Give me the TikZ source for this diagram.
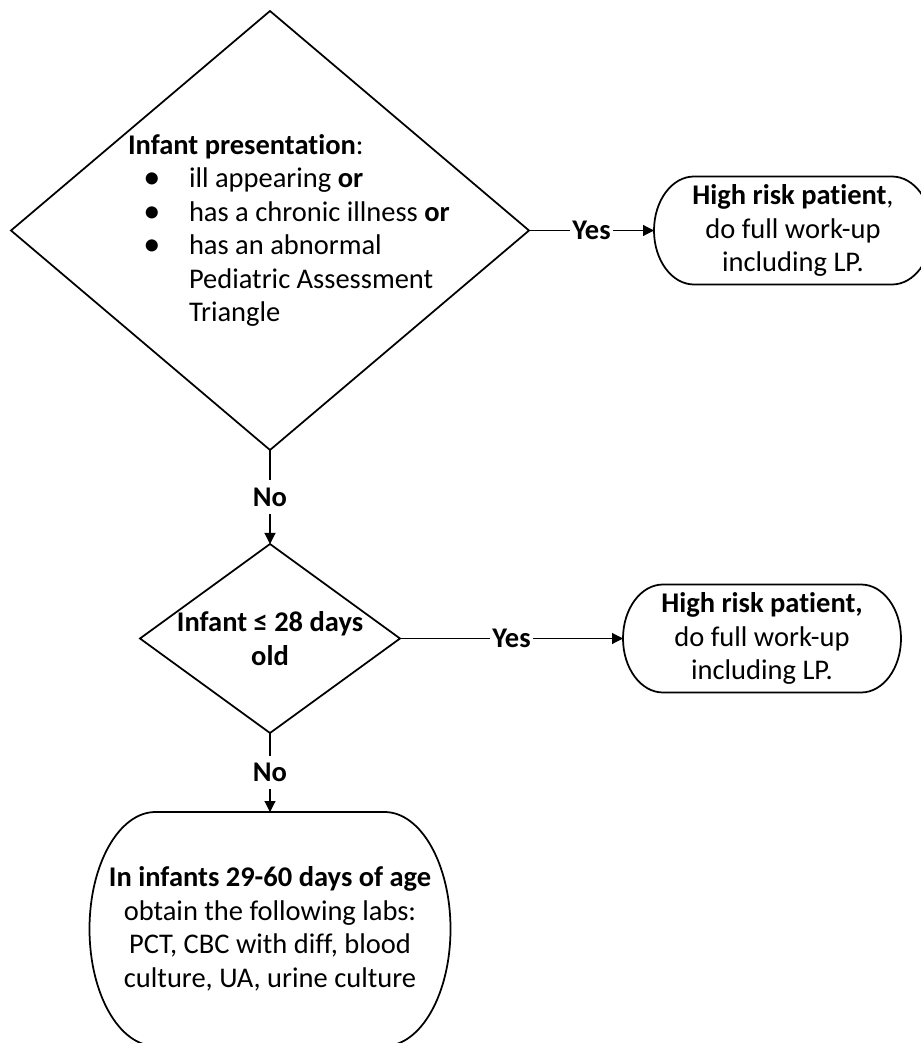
\documentclass[tikz,border=0pt]{standalone}
\usepackage{fontspec}
\setmainfont{Carlito}[Ligatures=CommonOff]
\usetikzlibrary{arrows.meta, positioning, shapes.geometric}

% outline of a terminator: flat top and bottom, half ellipses at the ends
\newcommand{\termshape}[3]{%
	\draw[line width=0.7pt] ([xshift=#2]#1.north west) -- ([xshift=-#2]#1.north east)
		arc[start angle=90, end angle=-90, x radius=#2, y radius=#3]
		-- ([xshift=#2]#1.south west)
		arc[start angle=270, end angle=90, x radius=#2, y radius=#3] -- cycle;}
% list bullet
\newcommand{\bul}{\makebox[24.4pt][l]{\makebox[19.2pt]{\raisebox{-0.3pt}[0pt][0pt]{\scalebox{1.2}{\textbullet}}}}}

\begin{document}
\begin{tikzpicture}[
		every node/.style={font=\fontsize{11.4pt}{13.4pt}\selectfont, outer sep=0pt},
		decision/.style={draw, diamond, inner sep=0pt, line width=0.7pt},
		terminator/.style={rectangle, align=center, inner sep=0pt, minimum width=111.2pt, minimum height=43.2pt},
		lbl/.style={fill=white, font=\fontsize{11.4pt}{13.4pt}\selectfont\bfseries, inner xsep=0.8pt, inner ysep=3pt},
		flow/.style={-{Triangle[length=4.4pt, width=4.4pt]}, line width=0.45pt},
		]
		\useasboundingbox (0,0) rectangle (368.4pt,-417.2pt);
		
		% First question
		\node[decision, minimum width=207.2pt, minimum height=175.6pt] (presentation) at (108pt,-92.2pt) {%
			\makebox[0pt][l]{\hspace*{-56.8pt}\parbox{132pt}{%
				\textbf{Infant presentation}:\\
				\bul ill appearing \textbf{or}\\
				\bul has a chronic illness \textbf{or}\\
				\bul has an abnormal\\
				\hspace*{24.4pt}Pediatric Assessment\\
				\hspace*{24.4pt}Triangle}}};
		\node[terminator, right=50pt of presentation] (highrisk1) {\textbf{High risk patient},\\do full work-up\\including LP.};
		
		% Second question
		\node[decision, minimum width=104pt, minimum height=75.6pt, below=37.6pt of presentation, font=\fontsize{11.4pt}{13.4pt}\selectfont\bfseries, align=center] (age) {\makebox[0pt]{Infant ≤ 28 days}\\\makebox[0pt]{old}};
		\node[terminator, right=89.2pt of age] (highrisk2) {\textbf{High risk patient,}\\do full work-up\\including LP.};
		
		% Labs
		\node[terminator, minimum width=144.4pt, minimum height=93.6pt, below=31.6pt of age] (labs) {\textbf{In infants 29-60 days of age}\\obtain the following labs:\\PCT, CBC with diff, blood\\culture, UA, urine culture};
		
		\termshape{highrisk1}{16pt}{21.6pt}
		\termshape{highrisk2}{16pt}{21.6pt}
		\termshape{labs}{26.4pt}{46.8pt}
		
		% Arrows
		\draw[flow] (presentation) -- node[lbl]{Yes} (highrisk1);
		\draw[flow] (presentation) -- node[lbl]{No} (age);
		\draw[flow] (age) -- node[lbl]{Yes} (highrisk2);
		\draw[flow] (age) -- node[lbl]{No} (labs);
\end{tikzpicture}
\end{document}
